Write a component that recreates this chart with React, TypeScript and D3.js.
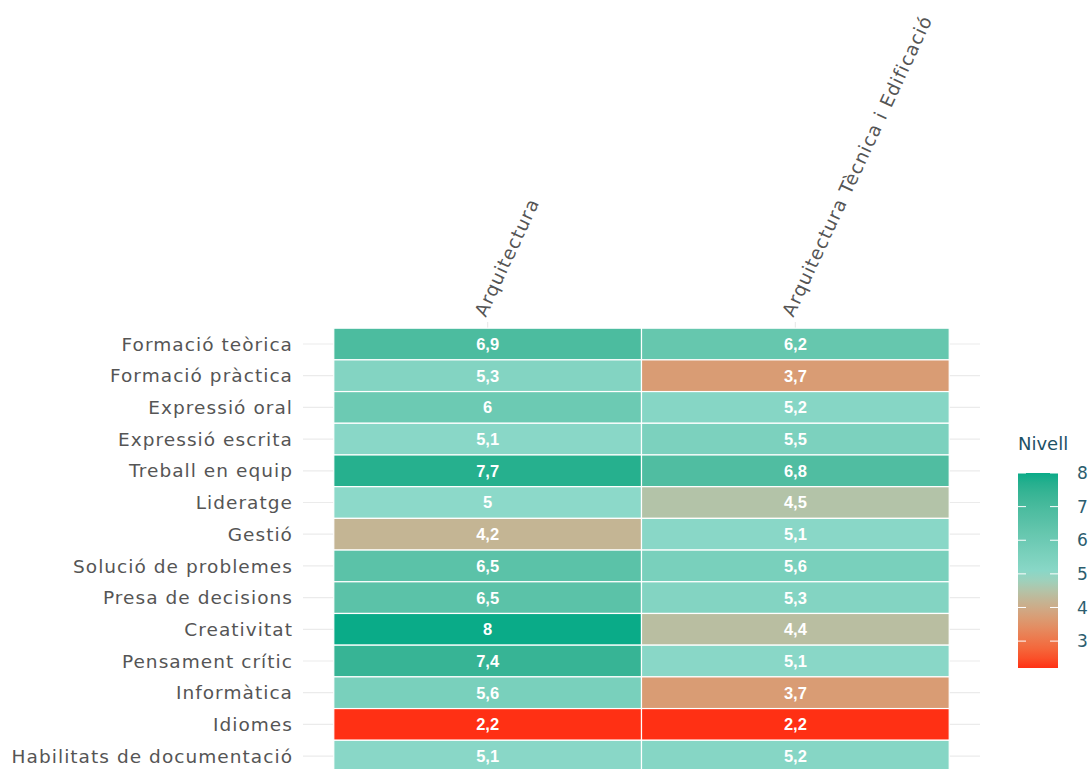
import { useEffect, useRef } from 'react'
import * as d3 from 'd3'

const skills = [
  'Formació teòrica',
  'Formació pràctica',
  'Expressió oral',
  'Expressió escrita',
  'Treball en equip',
  'Lideratge',
  'Gestió',
  'Solució de problemes',
  'Presa de decisions',
  'Creativitat',
  'Pensament crític',
  'Informàtica',
  'Idiomes',
  'Habilitats de documentació',
]

const degrees = ['Arquitectura', 'Arquitectura Tècnica i Edificació']

const arquitectura = [6.9, 5.3, 6, 5.1, 7.7, 5, 4.2, 6.5, 6.5, 8, 7.4, 5.6, 2.2, 5.1]
const tecnica = [6.2, 3.7, 5.2, 5.5, 6.8, 4.5, 5.1, 5.6, 5.3, 4.4, 5.1, 3.7, 2.2, 5.2]

const legendTicks = [3, 4, 5, 6, 7, 8]

export default function App() {
  const svgRef = useRef<SVGSVGElement | null>(null)

  useEffect(() => {
    if (!svgRef.current) return
    const svg = d3.select(svgRef.current)
    svg.selectAll('*').remove()

    const width = 1092
    const height = 769
    svg.attr('width', width).attr('height', height)

    const cells = skills.flatMap((s, i) => [
      { skill: s, degree: degrees[0], value: arquitectura[i] },
      { skill: s, degree: degrees[1], value: tecnica[i] },
    ])

    const x = d3.scaleBand<string>().domain(degrees).range([303, 980]).paddingInner(0).paddingOuter(0.1)
    const y = d3.scaleBand<string>().domain(skills).range([325, 325 + 14.2 * 31.7]).paddingInner(0).paddingOuter(0.1)

    const color = d3.scaleLinear<string>()
      .domain([2.2, 5, 8])
      .range(['#ff3014', '#8cd9c9', '#0aab88'])
      .interpolate(d3.interpolateLab)

    const fmt = (v: number) => String(v).replace('.', ',')
    const font = 'DejaVu Sans, sans-serif'
    const labelStyle = (t: d3.Selection<SVGTextElement, any, any, any>) =>
      t.attr('fill', '#555555')
        .style('font-family', font)
        .style('font-size', '18.5px')
        .style('letter-spacing', '1.05px')

    // grid lines
    svg.append('g').selectAll('line.h')
      .data(skills).enter().append('line')
      .attr('x1', 303).attr('x2', 980)
      .attr('y1', d => y(d)! + y.bandwidth() / 2)
      .attr('y2', d => y(d)! + y.bandwidth() / 2)
      .attr('stroke', '#ebebeb').attr('stroke-width', 1.2)
    svg.append('g').selectAll('line.v')
      .data(degrees).enter().append('line')
      .attr('x1', d => x(d)! + x.bandwidth() / 2)
      .attr('x2', d => x(d)! + x.bandwidth() / 2)
      .attr('y1', 322).attr('y2', height)
      .attr('stroke', '#ebebeb').attr('stroke-width', 1.2)

    // tiles
    svg.append('g').selectAll('rect')
      .data(cells).enter().append('rect')
      .attr('x', d => x(d.degree)!)
      .attr('y', d => y(d.skill)!)
      .attr('width', x.bandwidth())
      .attr('height', y.bandwidth())
      .attr('fill', d => color(d.value))
      .attr('stroke', '#ffffff').attr('stroke-width', 1.2)

    svg.append('g').selectAll('text')
      .data(cells).enter().append('text')
      .attr('x', d => x(d.degree)! + x.bandwidth() / 2)
      .attr('y', d => y(d.skill)! + y.bandwidth() / 2)
      .attr('dy', '0.36em')
      .attr('text-anchor', 'middle')
      .attr('fill', '#ffffff')
      .style('font-family', 'Liberation Sans, Arial, sans-serif')
      .style('font-weight', 'bold')
      .style('font-size', '16.5px')
      .text(d => fmt(d.value))

    // y axis labels
    svg.append('g').selectAll('text')
      .data(skills).enter().append('text')
      .attr('x', 293)
      .attr('y', d => y(d)! + y.bandwidth() / 2)
      .attr('dy', '0.36em')
      .attr('text-anchor', 'end')
      .call(labelStyle)
      .text(d => d)

    // x axis labels (rotated)
    svg.append('g').selectAll('text')
      .data(degrees).enter().append('text')
      .attr('transform', d => `translate(${x(d)! + x.bandwidth() / 2 - 2},${318}) rotate(-65)`)
      .attr('text-anchor', 'start')
      .call(labelStyle)
      .text(d => d)

    // legend
    const lg = svg.append('g')
    lg.append('text')
      .attr('x', 1018).attr('y', 450)
      .attr('fill', '#1d5166')
      .style('font-family', font)
      .style('font-size', '18px')
      .text('Nivell')

    const ly = d3.scaleLinear().domain([2.2, 8]).range([668, 473])
    const grad = svg.append('defs').append('linearGradient')
      .attr('id', 'nivell-grad')
      .attr('x1', 0).attr('y1', 1).attr('x2', 0).attr('y2', 0)
    d3.range(0, 1.0001, 0.05).forEach(t => {
      grad.append('stop')
        .attr('offset', t)
        .attr('stop-color', color(2.2 + t * (8 - 2.2)))
    })
    lg.append('rect')
      .attr('x', 1018).attr('y', 473)
      .attr('width', 40).attr('height', 195)
      .attr('fill', 'url(#nivell-grad)')

    lg.selectAll('line.tl')
      .data(legendTicks).enter().append('line')
      .attr('x1', 1018).attr('x2', 1026)
      .attr('y1', d => ly(d)).attr('y2', d => ly(d))
      .attr('stroke', '#ffffff').attr('stroke-width', 1)
    lg.selectAll('line.tr')
      .data(legendTicks).enter().append('line')
      .attr('x1', 1050).attr('x2', 1058)
      .attr('y1', d => ly(d)).attr('y2', d => ly(d))
      .attr('stroke', '#ffffff').attr('stroke-width', 1)
    lg.selectAll('text.tk')
      .data(legendTicks).enter().append('text')
      .attr('x', 1077)
      .attr('y', d => ly(d))
      .attr('dy', '0.36em')
      .attr('fill', '#2c5d6e')
      .style('font-family', font)
      .style('font-size', '17px')
      .text(d => d)
  }, [])

  return (
    <svg ref={svgRef} style={{ position: 'absolute', left: 0, top: 0, display: 'block' }}></svg>
  )
}
